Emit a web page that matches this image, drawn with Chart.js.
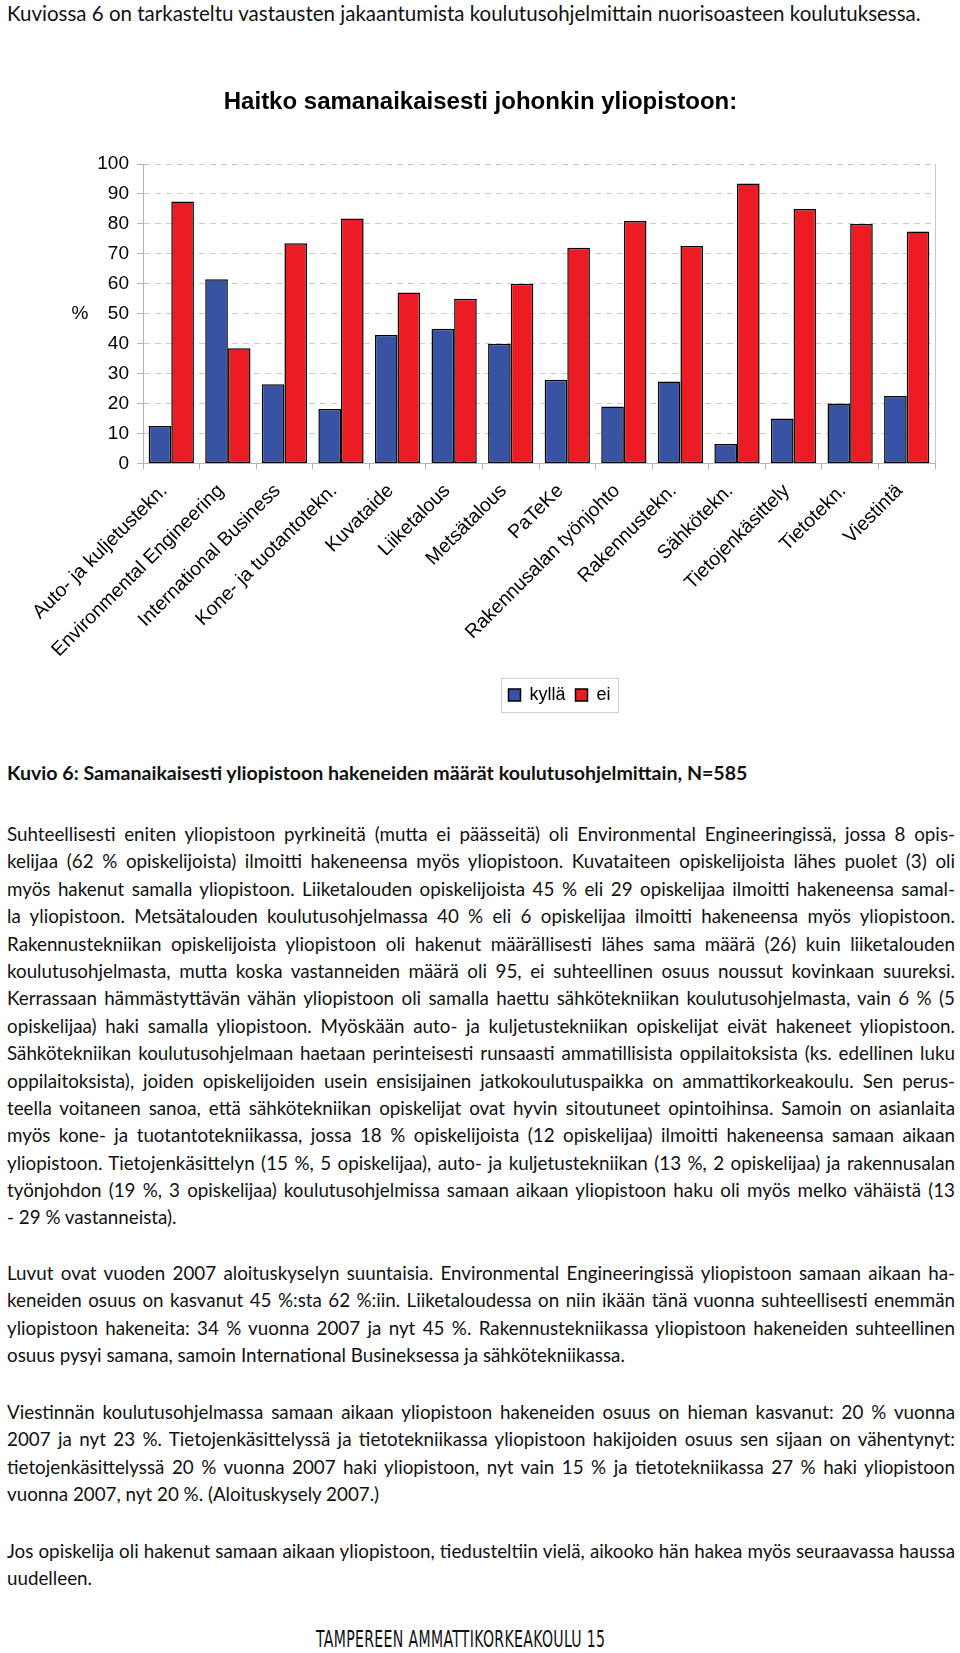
<!DOCTYPE html>
<html>
<head>
<meta charset="utf-8">
<script src="https://cdn.jsdelivr.net/npm/chart.js@4.4.1/dist/chart.umd.min.js"></script>
<style>
  body { margin: 0; background: #fff; width: 960px; height: 1653px; position: relative; overflow: hidden; font-family: Lato, "Open Sans", sans-serif; color: #111; }
  .p { position: absolute; left: 7px; width: 948px; font-size: 18.8px; }
  .l { height: 27.4px; line-height: 27.4px; text-align: justify; text-align-last: justify; overflow: hidden; }
  .l.e { text-align-last: left; }
  .cap { font-weight: bold; font-size: 19.6px; }
  .intro { font-size: 20.5px; }
  #chartBox { position: absolute; left: 0; top: 0; width: 960px; height: 714px; }
  #foot { position: absolute; top: 1626px; left: 316px; font-family: "Liberation Sans Narrow", "DejaVu Sans Condensed", sans-serif; font-size: 23px; line-height: 26px; transform-origin: 0 0; transform: scaleX(0.68); white-space: nowrap; letter-spacing: 0.5px; }
</style>
</head>
<body>

<div class="p intro" style="top:0px"><div class="l e">Kuviossa 6 on tarkasteltu vastausten jakaantumista koulutusohjelmittain nuorisoasteen koulutuksessa.</div></div>

<div id="chartBox"><canvas id="uniChart"></canvas></div>

<div class="p cap" style="top:759px"><div class="l e">Kuvio 6: Samanaikaisesti yliopistoon hakeneiden määrät koulutusohjelmittain, N=585</div></div>

<div class="p" style="top:820px">
  <div class="l">Suhteellisesti eniten yliopistoon pyrkineitä (mutta ei päässeitä) oli Environmental Engineeringissä, jossa 8 opis-</div>
  <div class="l">kelijaa (62 % opiskelijoista) ilmoitti hakeneensa myös yliopistoon. Kuvataiteen opiskelijoista lähes puolet (3) oli</div>
  <div class="l">myös hakenut samalla yliopistoon. Liiketalouden opiskelijoista 45 % eli 29 opiskelijaa ilmoitti hakeneensa samal-</div>
  <div class="l">la yliopistoon. Metsätalouden koulutusohjelmassa 40 % eli 6 opiskelijaa ilmoitti hakeneensa myös yliopistoon.</div>
  <div class="l">Rakennustekniikan opiskelijoista yliopistoon oli hakenut määrällisesti lähes sama määrä (26) kuin liiketalouden</div>
  <div class="l">koulutusohjelmasta, mutta koska vastanneiden määrä oli 95, ei suhteellinen osuus noussut kovinkaan suureksi.</div>
  <div class="l">Kerrassaan hämmästyttävän vähän yliopistoon oli samalla haettu sähkötekniikan koulutusohjelmasta, vain 6 % (5</div>
  <div class="l">opiskelijaa) haki samalla yliopistoon. Myöskään auto- ja kuljetustekniikan opiskelijat eivät hakeneet yliopistoon.</div>
  <div class="l">Sähkötekniikan koulutusohjelmaan haetaan perinteisesti runsaasti ammatillisista oppilaitoksista (ks. edellinen luku</div>
  <div class="l">oppilaitoksista), joiden opiskelijoiden usein ensisijainen jatkokoulutuspaikka on ammattikorkeakoulu. Sen perus-</div>
  <div class="l">teella voitaneen sanoa, että sähkötekniikan opiskelijat ovat hyvin sitoutuneet opintoihinsa. Samoin on asianlaita</div>
  <div class="l">myös kone- ja tuotantotekniikassa, jossa 18 % opiskelijoista (12 opiskelijaa) ilmoitti hakeneensa samaan aikaan</div>
  <div class="l" style="word-spacing:-1px">yliopistoon. Tietojenkäsittelyn (15 %, 5 opiskelijaa), auto- ja kuljetustekniikan (13 %, 2 opiskelijaa) ja rakennusalan</div>
  <div class="l">työnjohdon (19 %, 3 opiskelijaa) koulutusohjelmissa samaan aikaan yliopistoon haku oli myös melko vähäistä (13</div>
  <div class="l e">- 29 % vastanneista).</div>
</div>

<div class="p" style="top:1259px">
  <div class="l">Luvut ovat vuoden 2007 aloituskyselyn suuntaisia. Environmental Engineeringissä yliopistoon samaan aikaan ha-</div>
  <div class="l">keneiden osuus on kasvanut 45 %:sta 62 %:iin. Liiketaloudessa on niin ikään tänä vuonna suhteellisesti enemmän</div>
  <div class="l">yliopistoon hakeneita: 34 % vuonna 2007 ja nyt 45 %. Rakennustekniikassa yliopistoon hakeneiden suhteellinen</div>
  <div class="l e">osuus pysyi samana, samoin International Busineksessa ja sähkötekniikassa.</div>
</div>

<div class="p" style="top:1398px">
  <div class="l">Viestinnän koulutusohjelmassa samaan aikaan yliopistoon hakeneiden osuus on hieman kasvanut: 20 % vuonna</div>
  <div class="l">2007 ja nyt 23 %. Tietojenkäsittelyssä ja tietotekniikassa yliopistoon hakijoiden osuus sen sijaan on vähentynyt:</div>
  <div class="l">tietojenkäsittelyssä 20 % vuonna 2007 haki yliopistoon, nyt vain 15 % ja tietotekniikassa 27 % haki yliopistoon</div>
  <div class="l e">vuonna 2007, nyt 20 %. (Aloituskysely 2007.)</div>
</div>

<div class="p" style="top:1537px">
  <div class="l">Jos opiskelija oli hakenut samaan aikaan yliopistoon, tiedusteltiin vielä, aikooko hän hakea myös seuraavassa haussa</div>
  <div class="l e">uudelleen.</div>
</div>

<div id="foot">TAMPEREEN AMMATTIKORKEAKOULU 15</div>

<script>
// koulutusohjelmat and shares (%)
var programs = ['Auto- ja kuljetustekn.', 'Environmental Engineering', 'International Business', 'Kone- ja tuotantotekn.',
  'Kuvataide', 'Liiketalous', 'Metsätalous', 'PaTeKe', 'Rakennusalan työnjohto', 'Rakennustekn.',
  'Sähkötekn.', 'Tietojenkäsittely', 'Tietotekn.', 'Viestintä'];
var kylla = [12.5, 61.5, 26.5, 18.2, 42.9, 45, 40, 28, 19, 27.4, 6.5, 15, 20, 22.5];
var ei = [87.5, 38.5, 73.5, 81.8, 57.1, 55, 60, 72, 81, 72.6, 93.5, 85, 80, 77.5];
var yMin = 0, yMax = 100, yStep = 10;

var blue = '#3953a4';
var red = '#ed1c24';
var axisFont = { family: "'Liberation Sans', Arial, sans-serif", size: 19 };

// draws the right frame line, the "%" label and a box round the legend
var extras = {
  id: 'extras',
  afterLayout: function(chart) {
    // title and legend sit right of the box centre in the original
    chart.titleBlock.left += 13;
    chart.titleBlock.right += 13;
    chart.legend.left += 92;
    chart.legend.right += 92;
  },
  afterDraw: function(chart) {
    var ctx = chart.ctx;
    var area = chart.chartArea;
    ctx.save();
    ctx.strokeStyle = '#c8c8c8';
    ctx.lineWidth = 1;
    ctx.beginPath();
    ctx.moveTo(area.right + 0.5, area.top);
    ctx.lineTo(area.right + 0.5, area.bottom);
    ctx.stroke();

    ctx.fillStyle = '#000';
    ctx.font = "19px 'Liberation Sans', Arial, sans-serif";
    ctx.textAlign = 'center';
    ctx.textBaseline = 'middle';
    ctx.fillText('%', 80, chart.scales.y.getPixelForValue(50));

    var boxes = chart.legend.legendHitBoxes;
    if (boxes && boxes.length) {
      var left = Math.min.apply(null, boxes.map(function(b) { return b.left; }));
      var right = Math.max.apply(null, boxes.map(function(b) { return b.left + b.width; }));
      var top = boxes[0].top;
      ctx.strokeStyle = '#cfcfcf';
      ctx.strokeRect(Math.round(left - 7) + 0.5, Math.round(top - 8) + 0.5, Math.round(right - left + 15), Math.round(boxes[0].height + 16));
    }
    ctx.restore();
  }
};

var uniChart = new Chart(document.getElementById('uniChart'), {
  type: 'bar',
  data: {
    labels: programs,
    datasets: [{
      label: 'kyllä',
      data: kylla,
      backgroundColor: blue,
      borderColor: '#000',
      borderWidth: 1.5,
      borderSkipped: false
    }, {
      label: 'ei',
      data: ei,
      backgroundColor: red,
      borderColor: '#000',
      borderWidth: 1.5,
      borderSkipped: false
    }]
  },
  plugins: [extras],
  options: {
    responsive: true,
    maintainAspectRatio: false,
    animation: false,
    layout: { padding: { left: 0, right: 25, top: 0, bottom: 0 } },
    datasets: {
      bar: { categoryPercentage: 0.8, barPercentage: 1.0 }
    },
    plugins: {
      title: {
        display: true,
        text: 'Haitko samanaikaisesti johonkin yliopistoon:',
        color: '#000',
        font: { family: "'Liberation Sans', Arial, sans-serif", size: 24, weight: 'bold' },
        padding: { top: 88, bottom: 47.2 }
      },
      legend: {
        position: 'bottom',
        labels: {
          color: '#000',
          font: { family: "'Liberation Sans', Arial, sans-serif", size: 18 },
          boxWidth: 12,
          boxHeight: 12,
          padding: 10
        }
      },
      tooltip: { enabled: false }
    },
    scales: {
      x: {
        grid: { drawOnChartArea: false, drawTicks: true, tickLength: 6, color: '#b4b4b4' },
        border: { color: '#b4b4b4' },
        ticks: {
          color: '#000',
          font: { family: "'Liberation Sans', Arial, sans-serif", size: 19.5 },
          minRotation: 45,
          maxRotation: 45,
          autoSkip: false,
          padding: 10,
          labelOffset: -7
        },
        afterFit: function(scale) { scale.height = 212.5; }
      },
      y: {
        min: yMin,
        max: yMax,
        grid: { color: '#cccccc', tickColor: '#b4b4b4', tickLength: 6 },
        border: { color: '#b4b4b4', dash: [6, 5] },
        ticks: {
          stepSize: yStep,
          color: '#000',
          font: axisFont,
          padding: 8
        },
        afterFit: function(scale) { scale.width = 143; }
      }
    }
  }
});
</script>
</body>
</html>
